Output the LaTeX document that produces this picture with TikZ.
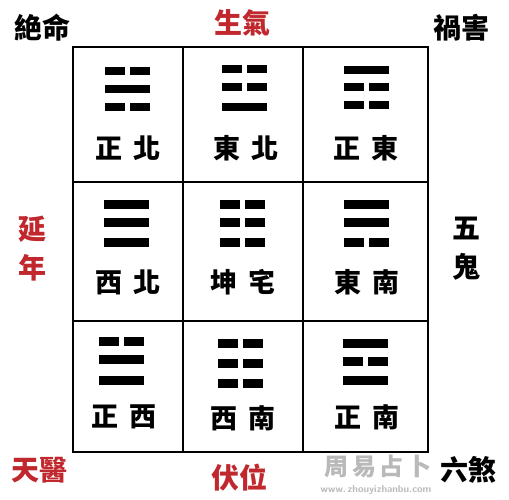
\documentclass[tikz,border=0pt]{standalone}
\usepackage{fontspec}
\newfontfamily\cjk{Noto Sans CJK TC}
\definecolor{fsred}{RGB}{192,40,45}
\newcommand\yangbar[2]{\fill (#1,#2) rectangle ++(45,8.5);}
\newcommand\yinbar[2]{\fill (#1,#2) rectangle ++(20,8.5); \fill (#1+25,#2) rectangle ++(20,8.5);}
\tikzset{
  lab/.style={font=\cjk\bfseries\fontsize{27}{27}\selectfont, inner sep=0pt},
  outer/.style={font=\cjk\bfseries\fontsize{28}{39}\selectfont, inner sep=0pt, align=center},
  gridline/.style={line width=2.5pt},
  wm/.style={inner sep=0pt, text=gray!55}
}
\begin{document}
\begin{tikzpicture}[x=1pt,y=-1pt]
\useasboundingbox[fill=white] (0,0) rectangle (509,500);
% grid
\draw[gridline] (73,47) rectangle (428,452);
\draw[gridline] (183,47) -- (183,452);
\draw[gridline] (303,47) -- (303,452);
\draw[gridline] (73,182) -- (428,182);
\draw[gridline] (73,321) -- (428,321);
% row 1
\yinbar{105}{67} \yangbar{105}{85} \yinbar{105}{103}
\yinbar{222}{65} \yinbar{222}{83} \yangbar{222}{103}
\yangbar{344}{66} \yinbar{344}{83} \yinbar{344}{101}
% row 2
\yangbar{104}{200} \yangbar{104}{218} \yangbar{104}{238}
\yinbar{220}{200} \yinbar{220}{218} \yinbar{220}{238}
\yangbar{344}{200} \yangbar{344}{218} \yinbar{344}{238}
% row 3
\yinbar{99}{337} \yangbar{99}{355} \yangbar{99}{376}
\yinbar{218}{339} \yinbar{218}{359} \yinbar{218}{379}
\yangbar{343}{339} \yinbar{343}{357} \yangbar{343}{376}
% cell labels
\node[lab] (zb) at (128,148) {正\hspace{0.4em}北};
\node[lab] (db) at (246,148) {東\hspace{0.4em}北};
\node[lab] (zd) at (366,148) {正\hspace{0.4em}東};
\node[lab] (xb) at (128,282) {西\hspace{0.4em}北};
\node[lab] (kz) at (243,282) {坤\hspace{0.4em}宅};
\node[lab] (dn) at (367,282) {東\hspace{0.4em}南};
\node[lab] (zx) at (124,417) {正\hspace{0.4em}西};
\node[lab] (xn) at (243,418) {西\hspace{0.4em}南};
\node[lab] (zn) at (367,417) {正\hspace{0.4em}南};
% outer labels
\node[outer] (jm) at (42,28) {絶命};
\node[outer, text=fsred] (sq) at (242,23) {生氣};
\node[outer] (hh) at (461,28) {禍害};
\node[outer, text=fsred] (yn) at (32,249) {延\\年};
\node[outer] (wg) at (466,249) {五\\鬼};
\node[outer, text=fsred] (ty) at (40,470) {天醫};
\node[outer, text=fsred] (fw) at (239,478) {伏位};
\node[outer] (ls) at (468,470) {六煞};
% watermark
\node[wm, font=\cjk\bfseries\fontsize{24}{24}\selectfont] (wm1) at (378,466) {周\hspace{0.15em}易\hspace{0.15em}占\hspace{0.15em}卜};
\node[wm, font=\sffamily\bfseries\fontsize{10}{10}\selectfont] (wm2) at (376,490) {www.\,zhouyizhanbu.com};
\end{tikzpicture}
\end{document}
